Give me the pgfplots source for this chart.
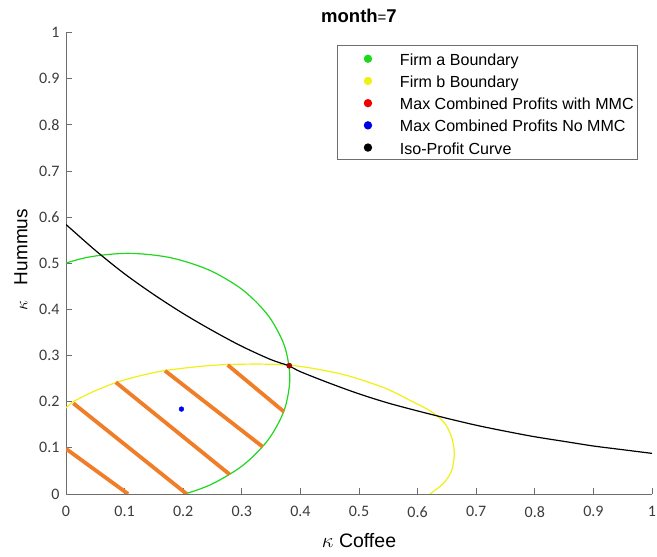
\documentclass[border=0pt]{standalone}
\usepackage{fontspec}
\setmainfont{Liberation Sans}
\newfontfamily\tickfont{Carlito}
\usepackage{pgfplots}
\pgfplotsset{compat=1.18}
\definecolor{fgreen}{RGB}{30,215,30}
\definecolor{fyellow}{RGB}{240,240,20}
\definecolor{horange}{RGB}{240,125,40}
\definecolor{axgray}{RGB}{110,110,110}
\definecolor{tickgray}{RGB}{60,60,60}
\begin{document}
\begin{tikzpicture}
\begin{axis}[
  at={(0,0)}, anchor=south west,
  scale only axis, width=586pt, height=461.5pt,
  xmin=0, xmax=1, ymin=0, ymax=1,
  axis x line*=bottom, axis y line*=left,
  axis line style={axgray, line width=0.8pt, -},
  tick align=inside,
  major tick length=6pt,
  tick style={axgray, line width=0.8pt},
  xtick={0,0.1,0.2,0.3,0.4,0.5,0.6,0.7,0.8,0.9,1},
  ytick={0,0.1,0.2,0.3,0.4,0.5,0.6,0.7,0.8,0.9,1},
  /pgf/number format/assume math mode=true,
  tick label style={font=\tickfont\fontsize{16}{16}\selectfont, text=tickgray},
  xticklabel style={yshift=-9pt},
  yticklabel style={xshift=-3pt},
  title={\textbf{month}{\fontsize{15}{15}\selectfont=}\textbf{7}},
  title style={font=\fontsize{18.5}{18.5}\selectfont, yshift=0pt},
  xlabel={$\kappa$ Coffee},
  ylabel={$\kappa$\hspace{0.8em}Hummus},
  every axis x label/.style={at={(rel axis cs:0.5,0)}, yshift=-46.5pt, anchor=center, font=\fontsize{19.5}{19.5}\selectfont},
  every axis y label/.style={at={(rel axis cs:0,0.508)}, xshift=-45pt, rotate=90, anchor=center, font=\fontsize{19}{19}\selectfont},
  legend style={at={(0.976,0.973)}, anchor=north east, draw=axgray, line width=0.6pt,
    font=\fontsize{16.05}{16.05}\selectfont, inner xsep=0pt, inner ysep=3pt, row sep=3.2pt,
    nodes={inner xsep=4pt, inner ysep=2pt, text height=15pt, text depth=0pt}},
  legend cell align=left,
  legend image code/.code={\path[draw=none,fill=none] (0pt,0pt) rectangle (59pt,0pt); \fill (31pt,-1pt) circle (4.2pt);},
]
\addlegendimage{fill=fgreen, draw=none}
\addlegendentry{Firm a Boundary}
\addlegendimage{fill=fyellow, draw=none}
\addlegendentry{Firm b Boundary}
\addlegendimage{fill=red!95!black, draw=none}
\addlegendentry{Max Combined Profits with MMC}
\addlegendimage{fill=blue!90!black, draw=none}
\addlegendentry{Max Combined Profits No MMC}
\addlegendimage{fill=black, draw=none}
\addlegendentry{Iso-Profit Curve}

% Firm a boundary (green), clipped by the axis
\addplot[fgreen, line width=1.2pt, smooth, forget plot] coordinates {
(-0.170,0.252) (-0.1606,0.1823) (-0.133,0.1173) (-0.0892,0.0614) (-0.035,0.012)
(0.0346,-0.012) (0.106,-0.0175) (0.1774,-0.0083) (0.244,0.0186) (0.3012,0.0614)
(0.345,0.1173) (0.3726,0.1823) (0.382,0.252) (0.3726,0.3217) (0.345,0.3868)
(0.3012,0.4426) (0.244,0.4854) (0.1774,0.5123) (0.106,0.5215) (0.0346,0.5123)
(-0.032,0.4854) (-0.0892,0.4426) (-0.133,0.3868) (-0.1606,0.3217) (-0.170,0.252)
};
% Firm b boundary (yellow)
\addplot[fyellow, line width=1.2pt, smooth, forget plot] coordinates {
(0,0.186) (0.0125,0.200) (0.047,0.222) (0.0865,0.242) (0.132,0.258) (0.172,0.268)
(0.229,0.2765) (0.274,0.2805) (0.331,0.2815) (0.379,0.2795) (0.422,0.272) (0.479,0.257)
(0.536,0.2335) (0.564,0.218) (0.593,0.199) (0.6155,0.1845) (0.6325,0.170) (0.647,0.152)
(0.657,0.127) (0.662,0.100) (0.662,0.075) (0.657,0.047) (0.644,0.023) (0.621,0)
};
% hatching (orange)
\addplot[horange, line width=3.8pt, forget plot] coordinates {(0,0.098) (0.106,0)};
\addplot[horange, line width=3.8pt, forget plot] coordinates {(0.0125,0.1965) (0.206,0)};
\addplot[horange, line width=3.8pt, forget plot] coordinates {(0.085,0.242) (0.279,0.0427)};
\addplot[horange, line width=3.8pt, forget plot] coordinates {(0.169,0.267) (0.3355,0.1025)};
\addplot[horange, line width=3.8pt, forget plot] coordinates {(0.276,0.2795) (0.3718,0.1784)};
% iso-profit curve (black)
\addplot[black, line width=1.2pt, smooth, forget plot] coordinates {
(0,0.584) (0.05,0.528) (0.1,0.477) (0.15,0.432) (0.2,0.391) (0.25,0.354) (0.3,0.320)
(0.35,0.291) (0.38,0.278) (0.4,0.265) (0.45,0.240) (0.5,0.217) (0.55,0.197) (0.6,0.180)
(0.65,0.164) (0.7,0.149) (0.75,0.136) (0.8,0.124) (0.85,0.114) (0.9,0.104) (0.95,0.096) (1,0.088)
};
% max combined with MMC (red)
\addplot[only marks, mark=*, mark size=2.6pt, mark options={fill=red!70!black, draw=red!50!black}, forget plot] coordinates {(0.381,0.278)};
% max combined no MMC (blue)
\addplot[only marks, mark=*, mark size=2.4pt, mark options={fill=blue, draw=blue}, forget plot] coordinates {(0.197,0.184)};
\end{axis}
\pgfresetboundingbox
\path (-66pt,-63pt) rectangle (591pt,494pt);
\end{tikzpicture}
\end{document}
